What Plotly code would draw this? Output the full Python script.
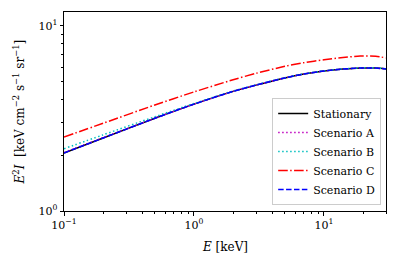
import plotly.graph_objects as go

energy_kev = [0.1, 0.2, 0.5, 1, 2, 3, 5, 7, 10, 14, 19, 25, 30]
stationary = [2.06, 2.48, 3.17, 3.78, 4.43, 4.79, 5.24, 5.50, 5.71, 5.85, 5.93, 5.92, 5.86]
scenario_a = [2.07, 2.49, 3.17, 3.78, 4.43, 4.79, 5.24, 5.50, 5.71, 5.85, 5.93, 5.92, 5.86]
scenario_b = [2.17, 2.58, 3.23, 3.81, 4.45, 4.80, 5.25, 5.51, 5.72, 5.86, 5.94, 5.93, 5.87]
scenario_c = [2.51, 2.98, 3.74, 4.40, 5.12, 5.55, 6.05, 6.33, 6.57, 6.75, 6.88, 6.86, 6.72]
scenario_d = [2.06, 2.48, 3.17, 3.78, 4.43, 4.79, 5.24, 5.50, 5.71, 5.85, 5.93, 5.92, 5.86]

series = [
    ("Stationary", stationary, "#000000", "solid"),
    ("Scenario A", scenario_a, "#bf00bf", "1.5px,2.5px"),
    ("Scenario B", scenario_b, "#00bfbf", "1.5px,2.5px"),
    ("Scenario C", scenario_c, "#ff0000", "9.6px,2.4px,1.5px,2.4px"),
    ("Scenario D", scenario_d, "#0000ff", "5.5px,2.4px"),
]

x_ticks = [0.1, 1, 10]
x_ticktext = ["10<sup>\u22121</sup>", "10<sup>0</sup>", "10<sup>1</sup>"]
y_ticks = [1, 10]
y_ticktext = ["10<sup>0</sup>", "10<sup>1</sup>"]
x_title = "<i>E</i> [keV]"
y_title = "<i>E</i><sup>2</sup><i>I </i> [keV cm<sup>\u22122</sup> s<sup>\u22121</sup> sr<sup>\u22121</sup>]"

FONT = "DejaVu Serif"

fig = go.Figure()
for name, vals, color, dash in series:
    fig.add_trace(go.Scatter(
        x=energy_kev, y=vals, name=name, mode="lines",
        line=dict(color=color, width=1.5, dash=dash, shape="spline", smoothing=0.8),
    ))

minor_x = [v * m for v in [0.1, 1, 10] for m in range(2, 10) if v * m <= 30]
minor_y = [m for m in range(2, 10)]

fig.update_layout(
    width=398, height=258,
    margin=dict(l=64, r=12, t=12, b=47),
    paper_bgcolor="white", plot_bgcolor="white",
    font=dict(family=FONT, size=11, color="black"),
    showlegend=True,
    legend=dict(
        x=0.985, y=0.03, xanchor="right", yanchor="bottom",
        bgcolor="rgba(255,255,255,0.8)", bordercolor="#cccccc", borderwidth=1,
        font=dict(family=FONT, size=11, color="black"), tracegroupgap=0,
        itemwidth=30,
    ),
    annotations=[
        dict(text=x_title, xref="paper", yref="paper", x=0.5, y=-0.18,
             xanchor="center", yanchor="middle", showarrow=False,
             font=dict(family=FONT, size=12, color="black")),
        dict(text=y_title, xref="paper", yref="paper", x=-0.14, y=0.5,
             xanchor="center", yanchor="middle", textangle=-90, showarrow=False,
             font=dict(family=FONT, size=12, color="black")),
    ],
)
fig.update_xaxes(
    type="log", range=[-1, 1.4771],
    tickvals=x_ticks, ticktext=x_ticktext,
    ticks="outside", ticklen=3.5, tickwidth=0.8, tickcolor="black",
    minor=dict(tickvals=minor_x, ticks="outside", ticklen=2, tickwidth=0.6, tickcolor="black"),
    showgrid=False, zeroline=False,
    showline=True, linecolor="black", linewidth=1, mirror=True,
    tickfont=dict(family=FONT, size=11),
)
fig.update_yaxes(
    type="log", range=[0, 1.0755],
    tickvals=y_ticks, ticktext=y_ticktext,
    ticks="outside", ticklen=3.5, tickwidth=0.8, tickcolor="black",
    minor=dict(tickvals=minor_y, ticks="outside", ticklen=2, tickwidth=0.6, tickcolor="black"),
    showgrid=False, zeroline=False,
    showline=True, linecolor="black", linewidth=1, mirror=True,
    tickfont=dict(family=FONT, size=11),
)

fig.write_html(
    "out.html",
    config={"displayModeBar": False},
    post_script="document.body.style.margin='0';document.body.style.overflow='hidden';",
)
